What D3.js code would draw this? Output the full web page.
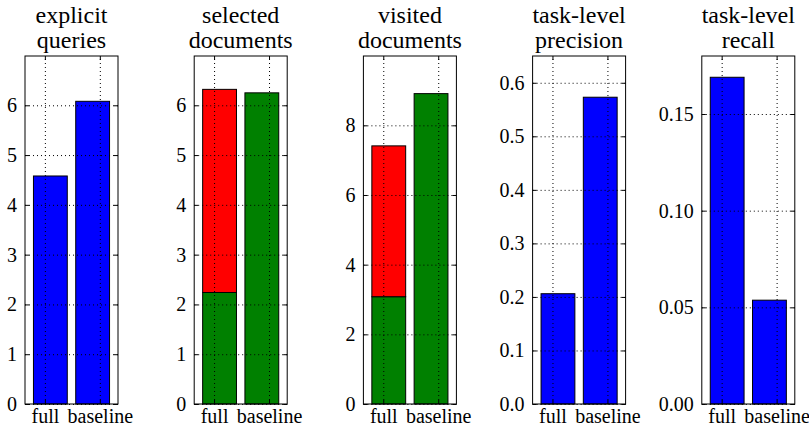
<!DOCTYPE html>
<html lang="en">
<head>
    <meta charset="UTF-8">
    <title>full vs baseline</title>
    <style>
        body,html{
            margin:0;
            padding:0;
            border:0;
            background:#fff;
        }
        .grid line{ stroke:#000; stroke-width:1; stroke-dasharray:1,3; }
        .grid path{ display:none; }
    </style>
</head>
<body>
    <svg id="svg" width="809" height="430"></svg>
    <script type="text/javascript" src="https://cdnjs.cloudflare.com/ajax/libs/d3/7.8.5/d3.min.js"></script>
    <script type="text/javascript">
        var categories = ["full", "baseline"];
        var titles = [
            ["explicit", "queries"],
            ["selected", "documents"],
            ["visited", "documents"],
            ["task-level", "precision"],
            ["task-level", "recall"]
        ];

        // values; green = bottom part, red = part stacked on top
        var explicitQueries   = [4.58, 6.08];
        var selectedGreen     = [2.24, 6.25];
        var selectedRed       = [4.08, 0];
        var visitedGreen      = [3.08, 8.91];
        var visitedRed        = [4.33, 0];
        var taskPrecision     = [0.206, 0.573];
        var taskRecall        = [0.169, 0.0537];

        var yMax = [6.99, 6.99, 9.99, 0.65, 0.18];
        var yTicks = [
            [0, 1, 2, 3, 4, 5, 6],
            [0, 1, 2, 3, 4, 5, 6],
            [0, 2, 4, 6, 8],
            [0, 0.1, 0.2, 0.3, 0.4, 0.5, 0.6],
            [0, 0.05, 0.10, 0.15]
        ];
        var yFormat = [d3.format("d"), d3.format("d"), d3.format("d"), d3.format(".1f"), d3.format(".2f")];

        // each panel: list of stacked layers [values, colour]
        var panels = [
            [[explicitQueries, "#0000ff"]],
            [[selectedGreen, "#008000"], [selectedRed, "#ff0000"]],
            [[visitedGreen, "#008000"], [visitedRed, "#ff0000"]],
            [[taskPrecision, "#0000ff"]],
            [[taskRecall, "#0000ff"]]
        ];

        var xTickPos = [0.27, 1.57];
        var barWidth = 0.8;
        var fontName = "'Liberation Serif', monospace";

        var svg = d3.select("#svg");
        var axTop = 56, axBottom = 404, w = 93;

        panels.forEach(function(layers, p){
            var left = 25 + p * 169.2;
            var g = svg.append("g");

            var x = d3.scaleLinear().domain([-0.2, 2.0]).range([left, left + w]);
            var y = d3.scaleLinear().domain([0, yMax[p]]).range([axBottom, axTop]);

            //bars, stacked
            var base = [0, 0];
            layers.forEach(function(layer){
                var vals = layer[0];
                var stack = vals.map(function(v, i){ return {i:i, y0:base[i], y1:base[i] + v}; });
                g.selectAll(null).data(stack.filter(function(d){ return d.y1 > d.y0; }))
                    .enter().append("rect")
                    .attr("x", function(d){ return x(d.i); })
                    .attr("width", function(){ return x(barWidth) - x(0); })
                    .attr("y", function(d){ return y(d.y1); })
                    .attr("height", function(d){ return y(d.y0) - y(d.y1); })
                    .attr("fill", layer[1])
                    .attr("stroke", "#000")
                    .attr("stroke-width", 1);
                base = stack.map(function(d){ return d.y1; });
            });

            //dotted grid over the bars
            g.append("g").attr("class", "grid")
                .attr("transform", "translate(" + left + ",0)")
                .call(d3.axisLeft(y).tickValues(yTicks[p]).tickSize(-w).tickFormat(""));
            g.append("g").attr("class", "grid")
                .attr("transform", "translate(0," + axBottom + ")")
                .call(d3.axisBottom(x).tickValues(xTickPos).tickSize(-(axBottom - axTop)).tickFormat(""));

            //inward ticks on all sides
            var ya = g.append("g").attr("transform", "translate(" + left + ",0)")
                .call(d3.axisLeft(y).tickValues(yTicks[p]).tickFormat(yFormat[p]).tickSize(-4).tickPadding(8));
            g.append("g").attr("transform", "translate(" + (left + w) + ",0)")
                .call(d3.axisRight(y).tickValues(yTicks[p]).tickFormat("").tickSize(-4));
            var xa = g.append("g").attr("transform", "translate(0," + axBottom + ")")
                .call(d3.axisBottom(x).tickValues(xTickPos).tickFormat(function(d, i){ return categories[i]; }).tickSize(-4).tickPadding(5));
            g.append("g").attr("transform", "translate(0," + axTop + ")")
                .call(d3.axisTop(x).tickValues(xTickPos).tickFormat("").tickSize(-4));

            g.selectAll(".domain").remove();
            g.selectAll(".tick line").filter(function(){ return !this.closest(".grid"); })
                .attr("stroke", "#000");
            ya.attr("font-family", fontName).attr("font-size", 20);
            xa.attr("font-family", fontName).attr("font-size", 20);
            ya.selectAll("text").attr("fill", "#000");
            xa.selectAll("text").attr("fill", "#000");

            //frame
            g.append("rect")
                .attr("x", left).attr("y", axTop)
                .attr("width", w).attr("height", axBottom - axTop)
                .attr("fill", "none").attr("stroke", "#000").attr("stroke-width", 1);

            //two-line title
            titles[p].forEach(function(line, k){
                g.append("text")
                    .attr("x", left + w / 2).attr("y", 23 + k * 25)
                    .attr("text-anchor", "middle")
                    .style("font-family", fontName)
                    .style("font-size", "24px")
                    .text(line);
            });
        });
    </script>
</body>
</html>
